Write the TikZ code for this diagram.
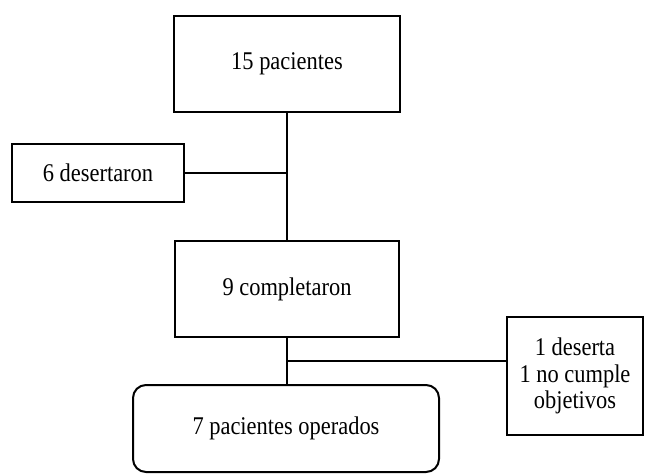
\documentclass[tikz,border=0pt]{standalone}
\usepackage{fontspec}
\setmainfont{Liberation Serif}[FakeStretch=0.88]
\begin{document}
\begin{tikzpicture}[x=1pt,y=-1pt,
  box/.style={draw, line width=2pt, inner sep=0pt, font=\fontsize{25.5}{26.7}\selectfont, align=center},
  link/.style={line width=2pt}]
\useasboundingbox (0,0) rectangle (645,475);
\node[box, minimum width=226pt, minimum height=96pt] (A) at (287,64) {15 pacientes};
\node[box, minimum width=172pt, minimum height=58pt] (B) at (98,173) {6 desertaron};
\node[box, minimum width=224pt, minimum height=96pt] (C) at (287,289) {9 completaron};
\node[box, minimum width=136pt, minimum height=118pt] (D) at (575,376) {1 deserta\\1 no cumple\\objetivos};
\node[box, rounded corners=13pt, minimum width=306pt, minimum height=87pt] (E) at (286,428.5) {7 pacientes operados};
\coordinate (j1) at (287,173);
\coordinate (j2) at (287,361);
\draw[link] (A.south) -- (C.north);
\draw[link] (B.east) -- (j1);
\draw[link] (C.south) -- (C.south |- E.north);
\draw[link] (j2) -- (j2 -| D.west);
\end{tikzpicture}
\end{document}
